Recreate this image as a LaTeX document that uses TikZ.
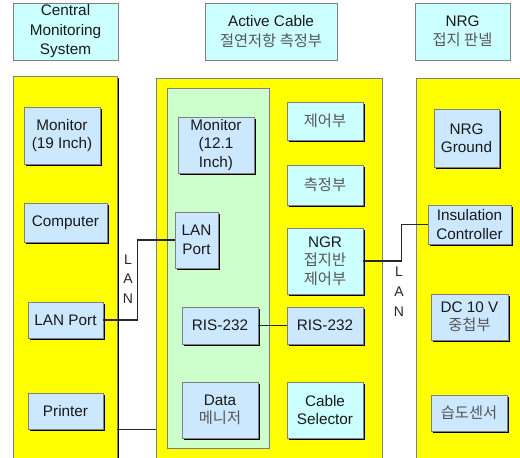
\documentclass[tikz,border=0pt]{standalone}
\usepackage{fontspec}
\setmainfont{Liberation Sans}
\newfontfamily\krfont{Noto Sans CJK KR}
\usetikzlibrary{shadows}
\definecolor{hdrfill}{HTML}{CCFFFF}
\definecolor{bluefill}{HTML}{CCE8FF}
\definecolor{cyanfill}{HTML}{CCFFFF}
\definecolor{panelyellow}{HTML}{FFFF00}
\definecolor{panelgreen}{HTML}{CCFFCC}
\definecolor{edgegray}{HTML}{808080}
\definecolor{krgray}{HTML}{555555}
\newcommand\ko[1]{{\krfont\color{krgray}#1}}
\tikzset{
  base/.style={inner sep=0pt, align=center, font=\fontsize{15.3}{18.5}\selectfont, text=black!90},
  hdr/.style={base, draw=edgegray, fill=hdrfill, line width=0.8pt, font=\fontsize{15.3}{19.5}\selectfont},
  bbox/.style={base, draw=edgegray, fill=bluefill, line width=0.8pt,
     general shadow={fill=black, shadow xshift=1.7pt, shadow yshift=-1.7pt}},
  cbox/.style={bbox, fill=cyanfill},
  panel/.style={draw=edgegray, fill=panelyellow, line width=0.8pt, inner sep=0pt},
  wire/.style={line width=1.1pt, draw=black!85},
  lanlbl/.style={inner sep=0pt, font=\fontsize{14}{14}\selectfont, text=black!85}
}
\begin{document}
\begin{tikzpicture}[x=1pt,y=-1pt]
\useasboundingbox (0,0) rectangle (520,458);
\clip (0,0) rectangle (520,458);
\fill[white] (0,0) rectangle (520,458);
% headers
\node[hdr, minimum width=105, minimum height=57] (h1) at (65.5,31.5) {Central\\Monitoring\\System};
\node[hdr, minimum width=132, minimum height=57] (h2) at (271,31.5) {Active Cable\\\ko{절연저항 측정부}};
\node[hdr, minimum width=95, minimum height=57] (h3) at (462.5,31.5) {NRG\\\ko{접지 판넬}};
% panels
\node[panel, minimum width=104, minimum height=400,
  general shadow={fill=black, shadow xshift=1.8pt, shadow yshift=-1.8pt}] (pL) at (65,276) {};
\node[panel, minimum width=226, minimum height=400] (pM) at (269,278) {};
\node[panel, minimum width=120, minimum height=400] (pR) at (476,278) {};
\node[panel, fill=panelgreen, minimum width=102, minimum height=360] (pG) at (218,268) {};
% left panel
\node[bbox, minimum width=76, minimum height=57] (mon19) at (62,135.5) {Monitor\\(19 Inch)};
\node[bbox, minimum width=83, minimum height=39] (comp) at (65.5,222.5) {Computer};
\node[bbox, minimum width=75, minimum height=36] (lanA) at (65.5,320) {LAN Port};
\node[bbox, minimum width=75, minimum height=36] (printer) at (65.5,411) {Printer};
% green panel
\node[bbox, minimum width=76, minimum height=56] (mon12) at (216,145) {Monitor\\(12.1\\Inch)};
\node[bbox, minimum width=43, minimum height=56] (lanB) at (196.5,240) {LAN\\Port};
\node[bbox, minimum width=76, minimum height=37] (risA) at (220,325.5) {RIS-232};
\node[bbox, minimum width=76, minimum height=56] (data) at (220,410) {Data\\\ko{메니저}};
% middle right column
\node[cbox, minimum width=76, minimum height=38] (ctrl) at (325,121) {\ko{제어부}};
\node[cbox, minimum width=76, minimum height=40] (meas) at (325,185) {\ko{측정부}};
\node[cbox, minimum width=76, minimum height=66] (ngr) at (325,261) {NGR\\\ko{접지반}\\\ko{제어부}};
\node[bbox, minimum width=76, minimum height=37] (risB) at (325,325.5) {RIS-232};
\node[cbox, minimum width=76, minimum height=56] (cable) at (325,410) {Cable\\Selector};
% right panel
\node[bbox, minimum width=65, minimum height=58] (nrgG) at (466.5,138) {NRG\\Ground};
\node[bbox, minimum width=83, minimum height=39] (insul) at (469.5,224.5) {Insulation\\Controller};
\node[bbox, minimum width=77, minimum height=46] (dc) at (469.5,317) {DC 10 V\\\ko{중첩부}};
\node[bbox, minimum width=76, minimum height=36] (hum) at (469,413) {\ko{습도센서}};
% connectors
\draw[wire] (lanA.east) -- ++(34,0) |- (lanB.west);
\draw[wire] (ngr.east) -- ++(38,0) |- (insul.west);
\draw[wire] (risA.east) -- (risB.west);
\draw[wire] (pL.east |- printer.south) -- (pM.west |- printer.south);
% LAN labels
\node[lanlbl] (l1) at (128,260) {L};
\node[lanlbl] (l2) at (128,279) {A};
\node[lanlbl] (l3) at (128,299) {N};
\node[lanlbl] (r1) at (399,272) {L};
\node[lanlbl] (r2) at (399,292) {A};
\node[lanlbl] (r3) at (399,312) {N};
\end{tikzpicture}
\end{document}
